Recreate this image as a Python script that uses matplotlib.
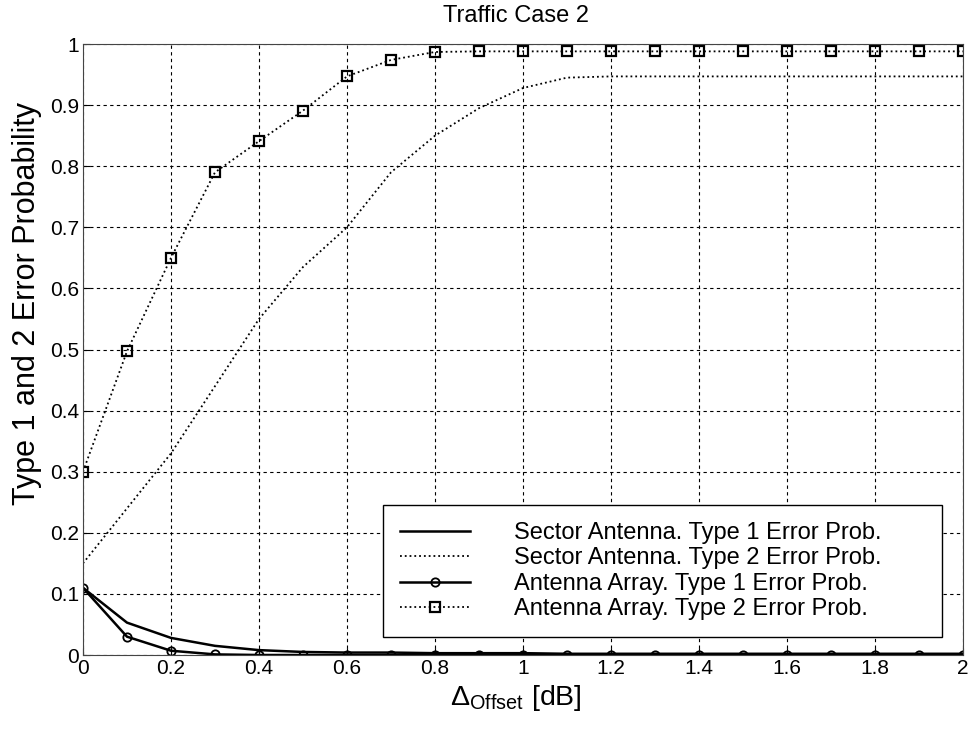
import numpy as np
import matplotlib
matplotlib.use('Agg')
import matplotlib.pyplot as plt

plt.rcParams['font.family'] = ['Liberation Sans', 'DejaVu Sans']
plt.rcParams['mathtext.fontset'] = 'custom'
plt.rcParams['mathtext.rm'] = 'Liberation Sans'
plt.rcParams['mathtext.it'] = 'Liberation Sans:italic'

# offset values in dB
offset = [0.0, 0.1, 0.2, 0.3, 0.4, 0.5, 0.6, 0.7, 0.8, 0.9, 1.0,
          1.1, 1.2, 1.3, 1.4, 1.5, 1.6, 1.7, 1.8, 1.9, 2.0]

sector_t1 = [0.110, 0.053, 0.028, 0.015, 0.008, 0.005, 0.004, 0.004, 0.003, 0.003, 0.003,
             0.002, 0.002, 0.002, 0.002, 0.002, 0.002, 0.002, 0.002, 0.002, 0.002]
sector_t2 = [0.150, 0.240, 0.330, 0.440, 0.550, 0.635, 0.700, 0.790, 0.850, 0.895, 0.928,
             0.945, 0.947, 0.947, 0.947, 0.947, 0.947, 0.947, 0.947, 0.947, 0.947]
array_t1 = [0.110, 0.030, 0.007, 0.001, 0.0, 0.0, 0.0, 0.0, 0.0, 0.0, 0.0,
            0.0, 0.0, 0.0, 0.0, 0.0, 0.0, 0.0, 0.0, 0.0, 0.0]
array_t2 = [0.300, 0.497, 0.650, 0.790, 0.841, 0.891, 0.947, 0.974, 0.987, 0.988, 0.988,
            0.988, 0.988, 0.988, 0.988, 0.988, 0.988, 0.988, 0.988, 0.988, 0.988]

labels = ['Sector Antenna. Type 1 Error Prob.',
          'Sector Antenna. Type 2 Error Prob.',
          'Antenna Array. Type 1 Error Prob.',
          'Antenna Array. Type 2 Error Prob.']

fig = plt.figure(figsize=(9.75, 7.29), dpi=100)
ax = fig.add_axes([0.0851, 0.1015, 0.9026, 0.8381])

ax.plot(offset, sector_t1, '-', color='black', lw=1.8, label=labels[0])
ax.plot(offset, sector_t2, ':', color='black', lw=1.3, label=labels[1])
ax.plot(offset, array_t1, '-', color='black', lw=1.8, marker='o', ms=6,
        mfc='none', mew=1.3, label=labels[2])
ax.plot(offset, array_t2, ':', color='black', lw=1.3, marker='s', ms=7,
        mfc='none', mew=1.6, label=labels[3])

ax.set_xlim(0, 2)
ax.set_ylim(0, 1)
ax.set_xticks(np.arange(0, 2.01, 0.2))
ax.set_xticklabels(['0', '0.2', '0.4', '0.6', '0.8', '1', '1.2', '1.4', '1.6', '1.8', '2'])
ax.set_yticks(np.arange(0, 1.01, 0.1))
ax.set_yticklabels(['0', '0.1', '0.2', '0.3', '0.4', '0.5', '0.6', '0.7', '0.8', '0.9', '1'])
ax.tick_params(direction='in', labelsize=15, length=5, pad=3)
ax.grid(True, color='black', linestyle=(0, (3, 3)), lw=0.8)
for s in ax.spines.values():
    s.set_color('#444444')

ax.set_title('Traffic Case 2', fontsize=17, pad=16, x=0.4915)
ax.set_xlabel(r'$\Delta_{\rm Offset}$ [dB]', fontsize=20.5)
ax.set_ylabel('Type 1 and 2 Error Probability', fontsize=22)
ax.xaxis.set_label_coords(0.492, -0.046)
ax.yaxis.set_label_coords(-0.047, 0.576)

leg = ax.legend(loc='lower left', bbox_to_anchor=(0.341, 0.0295, 0.635, 0.2),
                mode='expand', borderaxespad=0, fontsize=17,
                fancybox=False, edgecolor='black', framealpha=1,
                handlelength=3.0, handletextpad=1.85, labelspacing=0.15,
                borderpad=0.7)
leg.get_frame().set_linewidth(1.0)

plt.savefig('out.png', dpi=100)
